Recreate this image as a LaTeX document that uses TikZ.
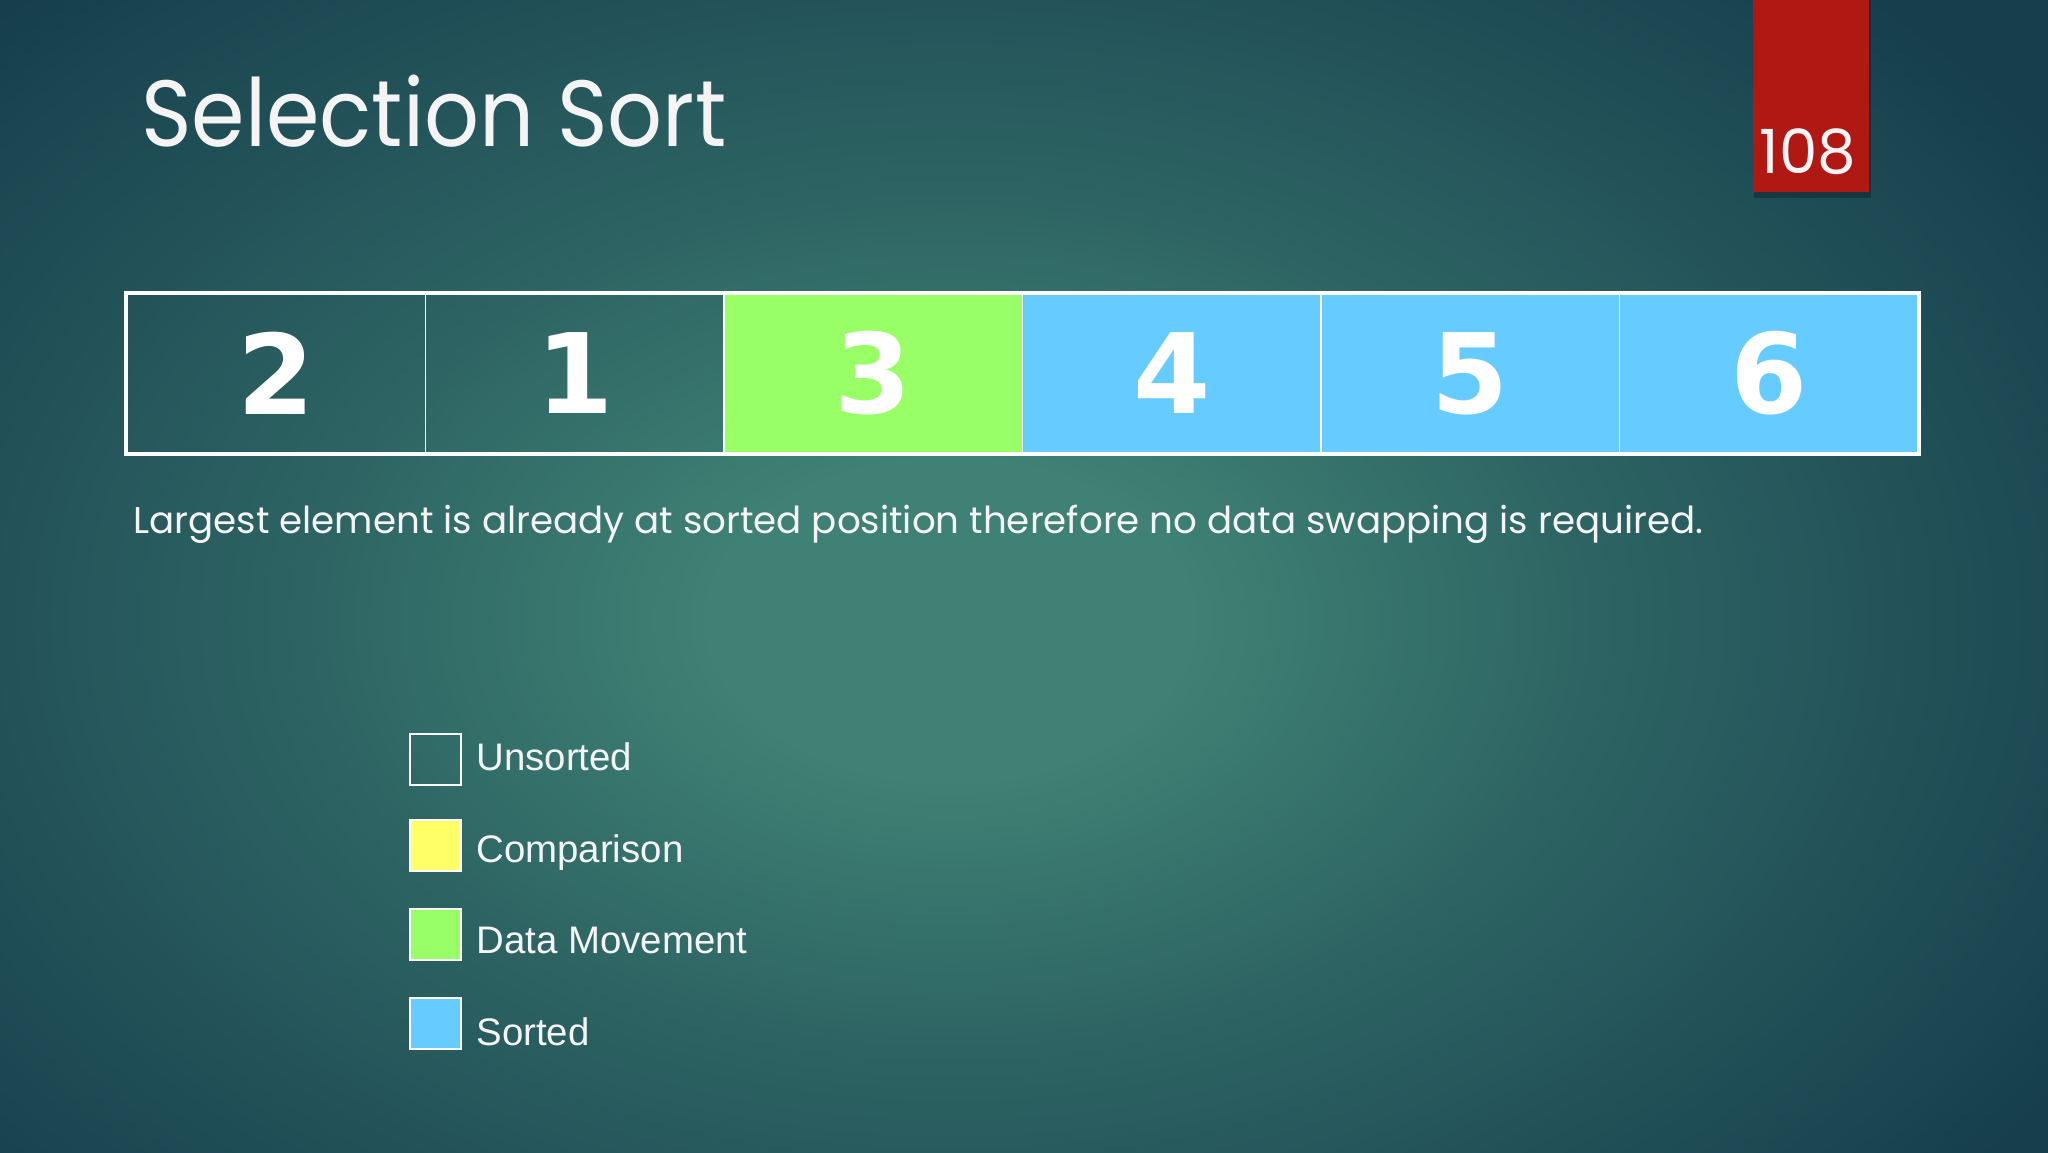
\documentclass[tikz,border=0pt]{standalone}
\usepackage{fontspec}
\setmainfont{Poppins}
\newfontfamily\legendfont{Liberation Sans}
\newfontfamily\digitfont{DejaVu Sans}
\definecolor{bgin}{HTML}{3F8174}
\definecolor{bgout}{HTML}{163E4D}
\definecolor{slidered}{HTML}{AF1813}
\definecolor{movegreen}{HTML}{99FF66}
\definecolor{sortblue}{HTML}{66CCFF}
\definecolor{cmpyellow}{HTML}{FFFF66}
\definecolor{txtwhite}{HTML}{F4F4F4}
\pgfdeclareradialshading{bgshade}{\pgfpoint{0bp}{0bp}}{color(0bp)=(bgin); color(4bp)=(bgin); color(11bp)=(bgin!55!bgout); color(22bp)=(bgout); color(50bp)=(bgout)}
\tikzset{
  cell/.style={draw=white, line width=0.75pt, minimum width=149.25pt, minimum height=79.5pt, inner sep=0pt, text=white, font=\digitfont\bfseries\fontsize{55.5pt}{60pt}\selectfont},
  legbox/.style={draw=white, line width=1pt, minimum width=25.5pt, minimum height=25.5pt, inner sep=0pt},
  legtext/.style={anchor=base west, inner sep=0pt, text=txtwhite, font=\legendfont\fontsize{19.2pt}{22pt}\selectfont},
}
\begin{document}
\begin{tikzpicture}[x=0.5pt,y=-0.5pt]
\useasboundingbox (0,0) rectangle (2048,1152);
\begin{scope}
\clip (0,0) rectangle (2048,1152);
\fill[bgout] (0,0) rectangle (2048,1152);
\shade[shading=bgshade] (-550,-380) rectangle (2450,1620);
\end{scope}
% slide number tab
\fill[black, opacity=0.25] (1754,0) rectangle (1871,198);
\fill[slidered] (1753,0) rectangle (1869,192);
\node[anchor=base, inner sep=0pt, text=txtwhite, font=\fontsize{30.5pt}{34pt}\selectfont] (num) at (1808,173) {108};
% title
\node[anchor=base west, inner sep=0pt, text=txtwhite, font=\fontsize{47pt}{52pt}\selectfont] (title) at (141,146) {\scalebox{0.915}[1]{Selection Sort}};
% array
\node[cell] (c1) at (276.25,373.5) {2};
\node[cell] (c2) at (574.75,373.5) {1};
\node[cell, fill=movegreen] (c3) at (873.25,373.5) {3};
\node[cell, fill=sortblue] (c4) at (1171.75,373.5) {4};
\node[cell, fill=sortblue] (c5) at (1470.25,373.5) {5};
\node[cell, fill=sortblue] (c6) at (1768.75,373.5) {6};
\draw[white, line width=2pt] (c1.north west) rectangle (c6.south east);
% caption
\node[anchor=base west, inner sep=0pt, text=txtwhite, font=\fontsize{18.6pt}{22pt}\selectfont] (caption) at (133,533) {Largest element is already at sorted position therefore no data swapping is required.};
% legend
\node[legbox] (l1) at (435,759) {};
\node[legbox, fill=cmpyellow] (l2) at (435,845) {};
\node[legbox, fill=movegreen] (l3) at (435,934.5) {};
\node[legbox, fill=sortblue] (l4) at (435,1023.5) {};
\node[legtext] (t1) at (476,770) {Unsorted};
\node[legtext] (t2) at (476,862) {Comparison};
\node[legtext] (t3) at (476,953) {Data Movement};
\node[legtext] (t4) at (476,1045) {Sorted};
\end{tikzpicture}
\end{document}
